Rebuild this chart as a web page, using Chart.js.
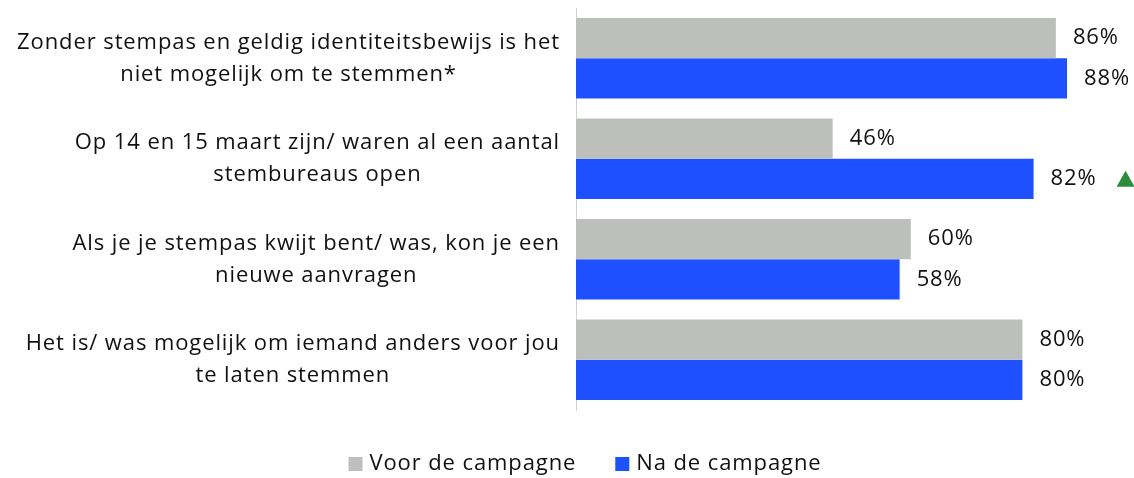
<!DOCTYPE html>
<html>
<head>
<meta charset="utf-8">
<script src="https://cdn.jsdelivr.net/npm/chart.js@4"></script>
<style>
  html, body { margin: 0; padding: 0; background: #fff; }
  #wrap { width: 1134px; height: 478px; position: relative; }
</style>
</head>
<body>
<div id="wrap"><canvas id="myBarChart"></canvas></div>
<script>
const categories = [
    ['Zonder stempas en geldig identiteitsbewijs is het', 'niet mogelijk om te stemmen*'],
    ['Op 14 en 15 maart zijn/ waren al een aantal', 'stembureaus open'],
    ['Als je je stempas kwijt bent/ was, kon je een', 'nieuwe aanvragen'],
    ['Het is/ was mogelijk om iemand anders voor jou', 'te laten stemmen']
];
const voorValues = [86, 46, 60, 80];
const naValues = [88, 82, 58, 80];
const seriesNames = ['Voor de campagne', 'Na de campagne'];
const seriesColors = ['#bdbfbd', '#1e50ff'];
// significant increase marker (green triangle)
const significant = [false, true, false, false];

const FONT = '22px "Open Sans", sans-serif';
const SPACING = '0.9px';
const TEXT_COLOR = '#111';

/*------------------labels, values, marker and legend------------------------*/
const textPlugin = {
    id: 'textPlugin',
    afterDatasetsDraw(chart) {
        const ctx = chart.ctx;
        const yScale = chart.scales.y;
        ctx.save();
        ctx.letterSpacing = SPACING;
        ctx.font = FONT;
        ctx.fillStyle = TEXT_COLOR;
        ctx.textBaseline = 'middle';

        // category labels, each block centred on itself, right edge at 560
        categories.forEach((lines, i) => {
            const yc = yScale.getPixelForTick(i);
            const w = Math.max(...lines.map(l => ctx.measureText(l).width));
            const cx = 560 - w / 2;
            ctx.textAlign = 'center';
            lines.forEach((line, j) => {
                ctx.fillText(line, cx, yc + (j - (lines.length - 1) / 2) * 32);
            });
        });

        // value labels
        ctx.textAlign = 'left';
        chart.data.datasets.forEach((ds, di) => {
            chart.getDatasetMeta(di).data.forEach((bar, i) => {
                const txt = ds.data[i] + '%';
                ctx.fillText(txt, bar.x + 17, bar.y);
                if (di === 1 && significant[i]) {
                    const x0 = bar.x + 17 + ctx.measureText(txt).width + 20;
                    ctx.fillStyle = '#2e8b3c';
                    ctx.beginPath();
                    ctx.moveTo(x0, bar.y + 8);
                    ctx.lineTo(x0 + 9, bar.y - 8);
                    ctx.lineTo(x0 + 18, bar.y + 8);
                    ctx.closePath();
                    ctx.fill();
                    ctx.fillStyle = TEXT_COLOR;
                }
            });
        });

        // legend
        const box = 14, gap = 7, itemGap = 39, ly = 464;
        const widths = seriesNames.map(n => box + gap + ctx.measureText(n).width);
        const total = widths.reduce((a, b) => a + b, 0) + itemGap * (widths.length - 1);
        let x = 585 - total / 2;
        seriesNames.forEach((name, i) => {
            ctx.fillStyle = seriesColors[i];
            ctx.fillRect(x, ly - box / 2, box, box);
            ctx.fillStyle = TEXT_COLOR;
            ctx.fillText(name, x + box + gap, ly);
            x += widths[i] + itemGap;
        });
        ctx.restore();
    }
};

const ctx = document.getElementById('myBarChart').getContext('2d');
new Chart(ctx, {
    type: 'bar',
    data: {
        labels: categories,
        datasets: [{
            label: seriesNames[0],
            backgroundColor: seriesColors[0],
            data: voorValues,
            categoryPercentage: 0.8,
            barPercentage: 1.0
        }, {
            label: seriesNames[1],
            backgroundColor: seriesColors[1],
            data: naValues,
            categoryPercentage: 0.8,
            barPercentage: 1.0
        }]
    },
    options: {
        indexAxis: 'y',
        responsive: true,
        maintainAspectRatio: false,
        animation: false,
        layout: { padding: { top: 8, right: 0, left: 0, bottom: 68 } },
        scales: {
            x: {
                display: false,
                min: 0,
                max: 100
            },
            y: {
                grid: { display: false, drawTicks: false },
                border: { display: true, color: '#d0d0d0', width: 1 },
                ticks: { display: false },
                afterFit: scale => { scale.width = 576; }
            }
        },
        plugins: {
            legend: { display: false },
            tooltip: { enabled: false }
        }
    },
    plugins: [textPlugin]
});
</script>
</body>
</html>
